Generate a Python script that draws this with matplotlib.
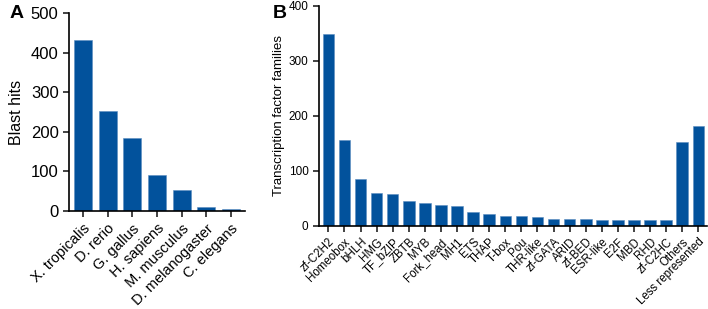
import numpy as np
import matplotlib.pyplot as plt

plt.rcParams['font.family'] = ['Liberation Sans', 'DejaVu Sans']

# Panel A data
species = ['X. tropicalis', 'D. rerio', 'G. gallus', 'H. sapiens',
           'M. musculus', 'D. melanogaster', 'C. elegans']
blast_hits = [433, 252, 185, 90, 53, 10, 5]

# Panel B data
families = ['zf-C2H2', 'Homeobox', 'bHLH', 'HMG', 'TF_bZIP', 'ZBTB', 'MYB',
            'Fork_head', 'MH1', 'ETS', 'THAP', 'T-box', 'Pou', 'THR-like',
            'zf-GATA', 'ARID', 'zf-BED', 'ESR-like', 'E2F', 'MBD', 'RHD',
            'zf-C2HC', 'Others', 'Less represented']
family_counts = [348, 155, 85, 59, 58, 45, 42, 38, 36, 25, 22, 18, 17, 16,
                 13, 12, 12, 11, 10, 10, 10, 10, 152, 181]

bar_color = '#02529c'
fig = plt.figure(figsize=(7.08, 3.09), dpi=100)

# ---- panel A
axA = fig.add_axes([0.0975, 0.317, 0.2485, 0.640])
xa = np.arange(len(species))
axA.bar(xa, blast_hits, width=0.73, color=bar_color, edgecolor='#5b8cc0', linewidth=0.4)
axA.set_xlim(-0.57, len(species) - 0.43)
axA.set_ylim(0, 500)
axA.set_yticks([0, 100, 200, 300, 400, 500])
axA.set_xticks(xa)
axA.set_xticklabels(species, rotation=45, ha='right', rotation_mode='anchor', fontsize=10.5)
axA.tick_params(axis='y', labelsize=12)
axA.set_ylabel('Blast hits', fontsize=11.5, labelpad=5)
fig.text(10 / 708, 1 - 18 / 309, 'A', fontsize=14, fontweight='bold', va='baseline')

# ---- panel B
axB = fig.add_axes([0.4506, 0.2696, 0.548, 0.712])
xb = np.arange(len(families))
axB.bar(xb, family_counts, width=0.72, color=bar_color, edgecolor='#5b8cc0', linewidth=0.4)
axB.set_xlim(-0.58, len(families) - 0.46)
axB.set_ylim(0, 400)
axB.set_yticks([0, 100, 200, 300, 400])
axB.set_xticks(xb)
axB.set_xticklabels(families, rotation=45, ha='right', rotation_mode='anchor', fontsize=8.3)
axB.tick_params(axis='y', labelsize=8.5)
axB.set_ylabel('Transcription factor families', fontsize=9.5, labelpad=3)
fig.text(273 / 708, 1 - 18 / 309, 'B', fontsize=14, fontweight='bold', va='baseline')

for ax in (axA, axB):
    ax.spines['top'].set_visible(False)
    ax.spines['right'].set_visible(False)
    ax.spines['left'].set_linewidth(1.2)
    ax.spines['bottom'].set_linewidth(1.2)
    ax.tick_params(direction='out', width=1.2, length=4, color='#222222')

fig.savefig('out.png', dpi=100)
